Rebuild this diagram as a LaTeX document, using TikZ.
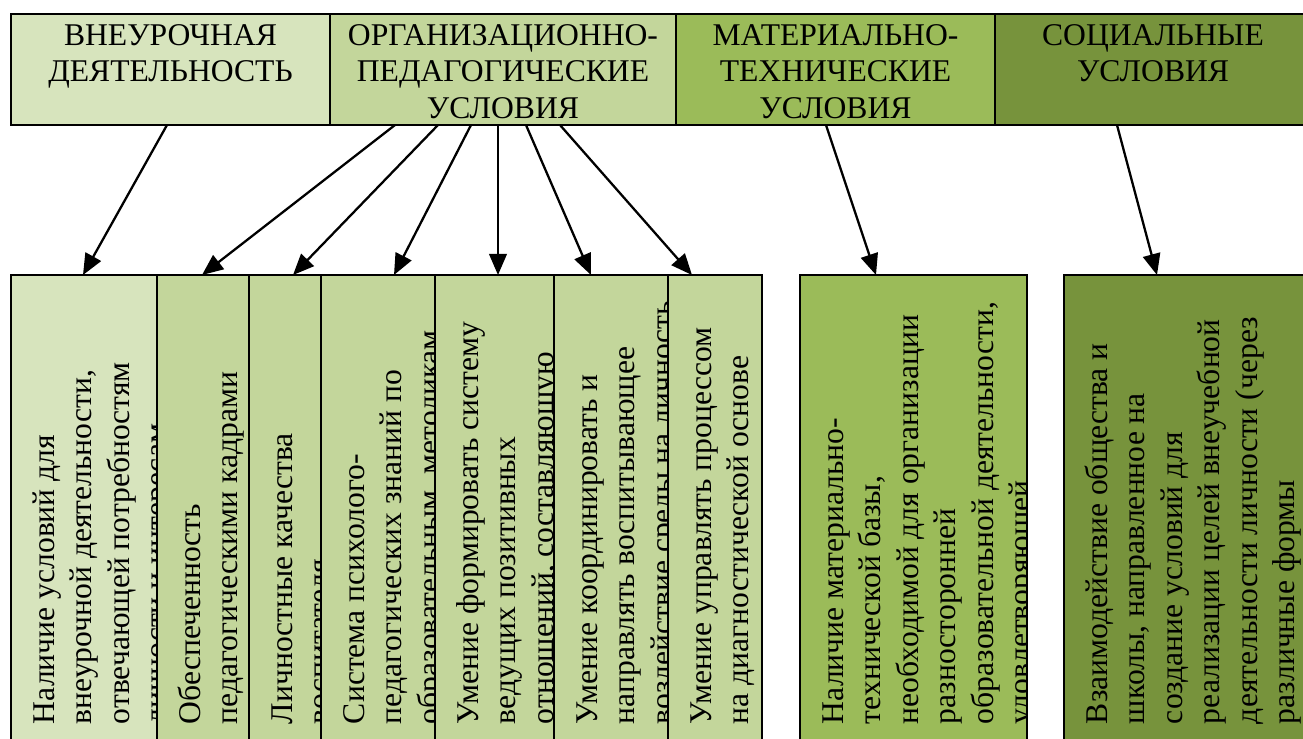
\documentclass[tikz,border=0pt]{standalone}
\usepackage{fontspec}
\setmainfont{Liberation Serif}
\usetikzlibrary{arrows.meta,calc}

\definecolor{paleolive}{HTML}{D7E4BD}
\definecolor{lightolive}{HTML}{C3D69B}
\definecolor{midolive}{HTML}{9BBB59}
\definecolor{darkolive}{HTML}{77933C}

\def\px{0.02cm}
\newcommand{\headtext}[1]{\parbox[t]{8cm}{\centering\fontsize{18}{21}\selectfont #1}}
\newcommand{\coltext}[1]{\parbox[t]{10cm}{\raggedright\fontsize{18}{21.4}\selectfont #1}}

\begin{document}
\begin{tikzpicture}[x=0.02cm, y=-0.02cm,
    box/.style={rectangle, draw=black, line width=1.4pt, anchor=north west, inner sep=0pt, outer sep=0pt},
    head/.style={box, minimum height=111*\px},
    col/.style={box, minimum height=485*\px},
    headtxt/.style={anchor=base, inner sep=0pt},
    coltxt/.style={rotate=90, anchor=base west, inner sep=0pt, draw=none, fill=none},
    arr/.style={line width=1.3pt, -{Triangle[length=12pt,width=10pt]}}]
    \useasboundingbox (0,0) rectangle (1303,738);
    \clip (0,0) rectangle (1303,738);

    \node[head, fill=paleolive, minimum width=319*\px](h1) at (11,14){};
    \node[head, fill=lightolive, minimum width=346*\px](h2) at (330,14){};
    \node[head, fill=midolive, minimum width=319*\px](h3) at (676,14){};
    \node[head, fill=darkolive, minimum width=316*\px](h4) at (995,14){};

    \node[headtxt](t1) at ($(h1.north)+(0,31)$){\headtext{ВНЕУРОЧНАЯ\\ДЕЯТЕЛЬНОСТЬ}};
    \node[headtxt](t2) at ($(h2.north)+(0,31)$){\headtext{ОРГАНИЗАЦИОННО-\\ПЕДАГОГИЧЕСКИЕ\\УСЛОВИЯ}};
    \node[headtxt](t3) at ($(h3.north)+(0,31)$){\headtext{МАТЕРИАЛЬНО-\\ТЕХНИЧЕСКИЕ\\УСЛОВИЯ}};
    \node[headtxt](t4) at ($(h4.north)+(0,31)$){\headtext{СОЦИАЛЬНЫЕ\\УСЛОВИЯ}};

    \node[col, fill=paleolive, minimum width=146*\px, path picture={
        \node[coltxt] at ($(path picture bounding box.north west)+(43,449)$){\coltext{Наличие условий для\\внеурочной деятельности,\\отвечающей потребностям\\личности и интересам}};}](b1) at (11,275){};
    \node[col, fill=lightolive, minimum width=92*\px, path picture={
        \node[coltxt] at ($(path picture bounding box.north west)+(43,449)$){\coltext{Обеспеченность\\педагогическими кадрами}};}](b2) at (157,275){};
    \node[col, fill=lightolive, minimum width=72*\px, path picture={
        \node[coltxt] at ($(path picture bounding box.north west)+(43,449)$){\coltext{Личностные качества\\воспитателя}};}](b3) at (249,275){};
    \node[col, fill=lightolive, minimum width=114*\px, path picture={
        \node[coltxt] at ($(path picture bounding box.north west)+(43,449)$){\coltext{Система психолого-\\педагогических знаний по\\образовательным, методикам}};}](b4) at (321,275){};
    \node[col, fill=lightolive, minimum width=119*\px, path picture={
        \node[coltxt] at ($(path picture bounding box.north west)+(43,449)$){\coltext{Умение формировать систему\\ведущих позитивных\\отношений, составляющую}};}](b5) at (435,275){};
    \node[col, fill=lightolive, minimum width=114*\px, path picture={
        \node[coltxt] at ($(path picture bounding box.north west)+(43,449)$){\coltext{Умение координировать и\\направлять воспитывающее\\воздействие среды на личность}};}](b6) at (554,275){};
    \node[col, fill=lightolive, minimum width=94*\px, path picture={
        \node[coltxt] at ($(path picture bounding box.north west)+(43,449)$){\coltext{Умение управлять процессом\\на диагностической основе}};}](b7) at (668,275){};
    \node[col, fill=midolive, minimum width=227*\px, path picture={
        \node[coltxt] at ($(path picture bounding box.north west)+(43,449)$){\coltext{Наличие материально-\\технической базы,\\необходимой для организации\\разносторонней\\образовательной деятельности,\\удовлетворяющей}};}](m) at (800,275){};
    \node[col, fill=darkolive, minimum width=256*\px, path picture={
        \node[coltxt] at ($(path picture bounding box.north west)+(43,449)$){\coltext{Взаимодействие общества и\\школы, направленное на\\создание условий для\\реализации целей внеучебной\\деятельности личности (через\\различные формы}};}](s) at (1064,275){};

    \draw[arr] ($(h1.south west)+(156,0)$) -- ($(b1.north west)+(72,0)$);
    \draw[arr] ($(h2.south west)+(65,0)$) -- ($(b2.north west)+(45,0)$);
    \draw[arr] ($(h2.south west)+(108,0)$) -- ($(b3.north west)+(44,0)$);
    \draw[arr] ($(h2.south west)+(141,0)$) -- ($(b4.north west)+(73,0)$);
    \draw[arr] ($(h2.south west)+(168,0)$) -- ($(b5.north west)+(63,0)$);
    \draw[arr] ($(h2.south west)+(196,0)$) -- ($(b6.north west)+(37,0)$);
    \draw[arr] ($(h2.south west)+(230,0)$) -- ($(b7.north west)+(24,0)$);
    \draw[arr] ($(h3.south west)+(150,0)$) -- ($(m.north west)+(76,0)$);
    \draw[arr] ($(h4.south west)+(122,0)$) -- ($(s.north west)+(93,0)$);
\end{tikzpicture}
\end{document}
